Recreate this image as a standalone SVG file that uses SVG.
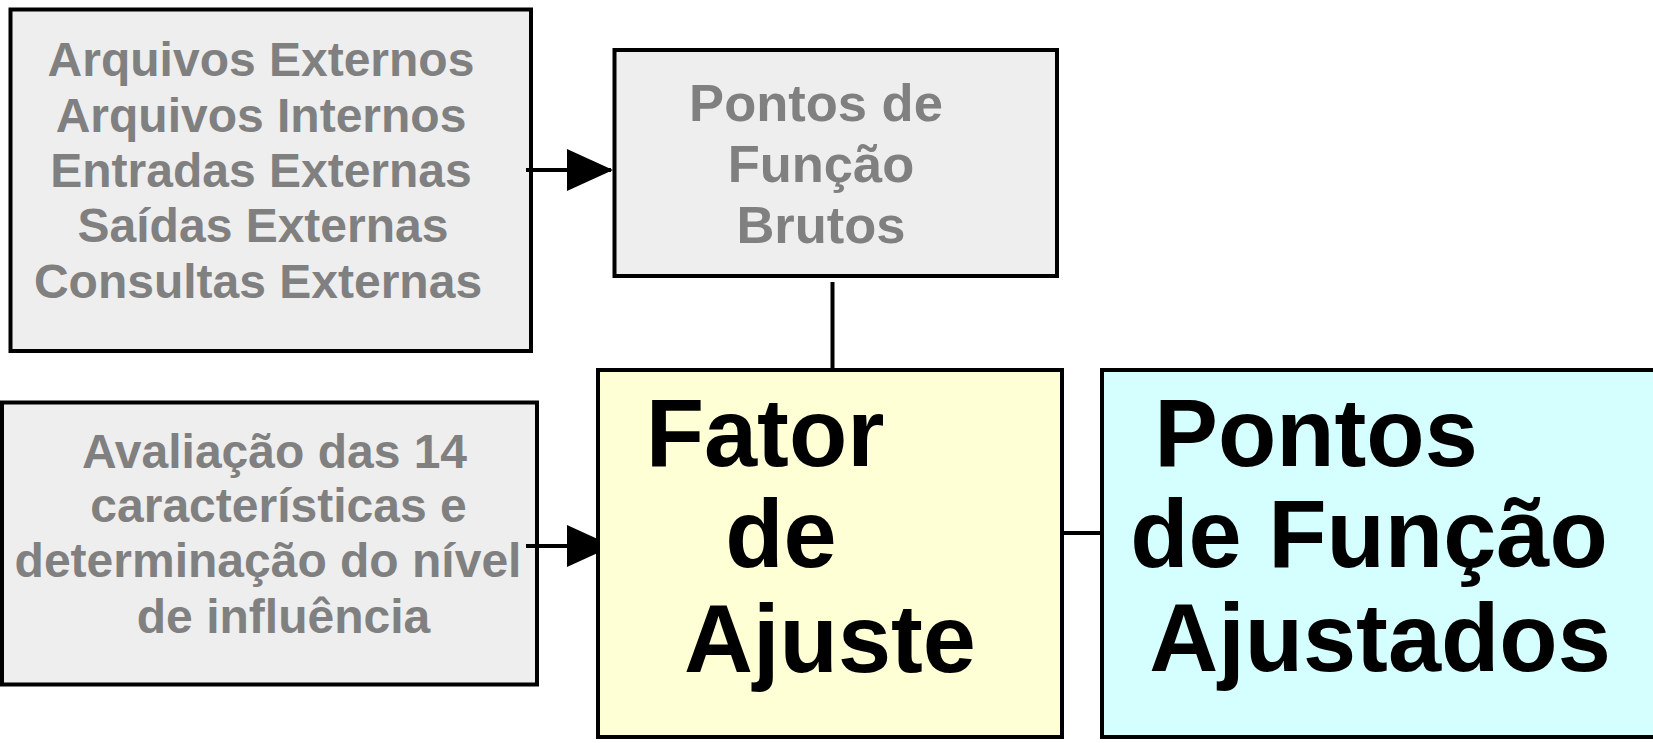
<svg xmlns="http://www.w3.org/2000/svg" width="1653" height="743" viewBox="0 0 1653 743">
<style>
.box{stroke:#000;stroke-width:4}
.gray{fill:#EEEEEE}
.gt{font-family:"Liberation Sans",Arial,sans-serif;font-weight:bold;fill:#808080;text-anchor:middle}
.bt{font-family:"Liberation Sans",Arial,sans-serif;font-weight:bold;fill:#000;text-anchor:middle;font-size:95.5px}
.conn{stroke:#000;stroke-width:4;fill:none}
</style>
<defs>
<marker id="ah" viewBox="0 0 46 42" refX="44" refY="21" markerWidth="46" markerHeight="42" markerUnits="userSpaceOnUse" orient="auto">
<path d="M0,0 L46,21 L0,42 z" fill="#000"/>
</marker>
</defs>
<rect width="1653" height="743" fill="#fff"/>
<g id="node-entradas">
<rect class="box gray" x="10.5" y="9.5" width="520.5" height="341.5"/>
<text class="gt" font-size="48"><tspan x="261" y="76">Arquivos Externos</tspan><tspan x="261" y="132">Arquivos Internos</tspan><tspan x="261" y="187">Entradas Externas</tspan><tspan x="263" y="242">Saídas Externas</tspan><tspan x="258" y="298">Consultas Externas</tspan></text>
</g>
<g id="node-brutos">
<rect class="box gray" x="614.5" y="50" width="442.5" height="226"/>
<text class="gt" font-size="52.5"><tspan x="816" y="121">Pontos de</tspan><tspan x="821" y="182">Função</tspan><tspan x="821" y="243">Brutos</tspan></text>
</g>
<g id="node-avaliacao">
<rect class="box gray" x="2" y="402.5" width="535" height="282"/>
<text class="gt" font-size="48"><tspan x="274.5" y="468">Avaliação das 14</tspan><tspan x="278.5" y="522">características e</tspan><tspan x="268" y="577">determinação do nível</tspan><tspan x="283.5" y="633">de influência</tspan></text>
</g>
<g id="connectors">
<line class="conn" x1="526" y1="170" x2="611" y2="170" marker-end="url(#ah)"/>
<line class="conn" x1="526" y1="546" x2="611" y2="546" marker-end="url(#ah)"/>
<line class="conn" x1="832.5" y1="282" x2="832.5" y2="370"/>
<line class="conn" x1="1062" y1="533" x2="1102" y2="533"/>
</g>
<g id="node-fator">
<rect class="box" fill="#FFFFD5" x="598" y="370" width="464" height="367"/>
<text class="bt"><tspan x="765" y="466">Fator</tspan><tspan x="781" y="567">de</tspan><tspan x="830" y="672">Ajuste</tspan></text>
</g>
<g id="node-ajustados">
<rect class="box" fill="#D5FFFF" x="1102" y="370" width="560" height="367"/>
<text class="bt"><tspan x="1316" y="466">Pontos</tspan><tspan x="1369" y="567">de Função</tspan><tspan x="1380" y="671">Ajustados</tspan></text>
</g>
</svg>
